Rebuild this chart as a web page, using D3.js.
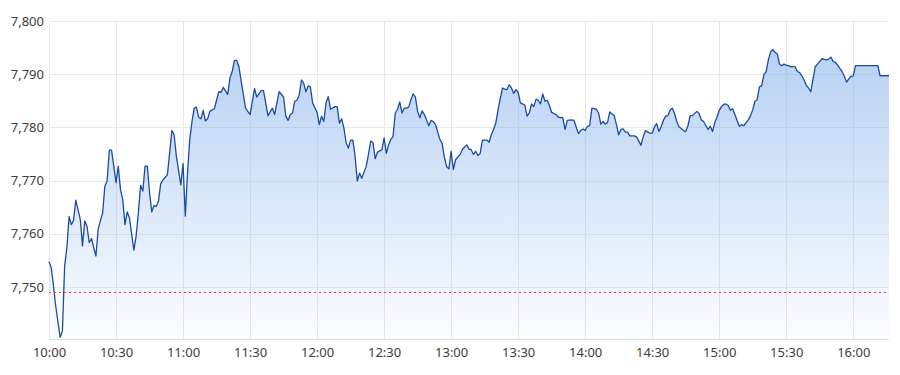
<!DOCTYPE html>
<html>
<head>
<meta charset="utf-8">
<script src="https://cdn.jsdelivr.net/npm/d3@7"></script>
<style>
  body { margin: 0; background: #fff; }
  text { font-family: "Noto Sans", "DejaVu Sans", sans-serif; }
</style>
</head>
<body>
<div id="chart"></div>
<script>
// intraday quotes, [time, price]
var quotes = [
  ["10:00",7754.7],["10:01",7753.6],["10:02",7750.2],["10:03",7746.4],["10:05",7740.5],["10:06",7741.7],
  ["10:07",7753.9],["10:08",7757.4],["10:09",7763.2],["10:10",7761.7],["10:11",7762.5],["10:12",7766.3],
  ["10:14",7762.7],["10:15",7757.7],["10:16",7762.4],["10:17",7761.4],["10:18",7758.3],["10:19",7759.1],
  ["10:20",7757.4],["10:21",7755.8],["10:22",7760.8],["10:23",7762.4],["10:24",7763.9],["10:25",7768.9],
  ["10:26",7769.9],["10:27",7775.7],["10:28",7775.7],["10:30",7769.6],["10:31",7772.7],["10:32",7768.3],
  ["10:33",7766.4],["10:34",7761.7],["10:35",7764.1],["10:36",7763.0],["10:38",7756.9],["10:39",7759.6],
  ["10:40",7763.9],["10:41",7769.1],["10:42",7768.0],["10:43",7772.7],["10:44",7772.7],["10:45",7767.7],
  ["10:46",7764.1],["10:47",7765.3],["10:48",7765.1],["10:49",7766.1],["10:50",7769.4],["10:51",7770.1],
  ["10:53",7771.1],["10:54",7775.2],["10:55",7779.4],["10:56",7778.6],["10:57",7774.6],["10:59",7769.2],
  ["11:00",7773.2],["11:01",7763.3],["11:02",7771.4],["11:03",7777.7],["11:04",7781.1],["11:05",7783.6],
  ["11:06",7783.8],["11:07",7781.9],["11:08",7781.6],["11:09",7783.2],["11:10",7781.2],["11:11",7781.6],
  ["11:12",7783.0],["11:14",7783.5],["11:16",7786.7],["11:17",7786.6],["11:18",7787.5],["11:20",7786.2],
  ["11:21",7789.3],["11:22",7790.5],["11:23",7792.6],["11:24",7792.6],["11:25",7791.4],["11:27",7786.1],
  ["11:28",7783.6],["11:30",7782.4],["11:32",7787.3],["11:33",7785.7],["11:35",7786.9],["11:36",7786.9],
  ["11:37",7784.6],["11:38",7782.2],["11:40",7783.6],["11:41",7782.4],["11:43",7786.7],["11:45",7785.7],
  ["11:46",7782.1],["11:47",7781.3],["11:48",7782.4],["11:49",7782.7],["11:50",7784.9],["11:51",7785.1],
  ["11:52",7786.1],["11:53",7788.9],["11:54",7788.3],["11:55",7786.7],["11:56",7787.8],["11:57",7787.6],
  ["11:58",7784.6],["12:00",7782.8],["12:01",7780.5],["12:02",7782.1],["12:03",7781.1],["12:04",7784.6],
  ["12:05",7785.8],["12:06",7783.4],["12:08",7783.9],["12:09",7783.9],["12:10",7780.8],["12:11",7781.6],
  ["12:12",7779.9],["12:13",7777.1],["12:14",7776.1],["12:15",7777.6],["12:16",7777.6],["12:17",7774.6],
  ["12:18",7769.9],["12:19",7771.4],["12:20",7770.4],["12:22",7772.7],["12:23",7774.9],["12:24",7777.4],
  ["12:25",7777.2],["12:26",7774.1],["12:27",7775.3],["12:29",7775.8],["12:30",7778.0],["12:31",7775.1],
  ["12:32",7776.7],["12:33",7777.7],["12:34",7778.3],["12:35",7782.7],["12:36",7783.4],["12:37",7784.8],
  ["12:38",7782.7],["12:39",7783.6],["12:40",7783.6],["12:41",7783.8],["12:42",7785.2],["12:43",7786.3],
  ["12:44",7785.7],["12:45",7783.0],["12:46",7781.8],["12:47",7783.1],["12:48",7782.4],["12:49",7781.4],
  ["12:50",7780.3],["12:51",7781.3],["12:52",7781.1],["12:53",7780.5],["12:55",7777.7],["12:56",7776.9],
  ["12:57",7774.3],["12:58",7772.6],["12:59",7772.2],["13:00",7775.5],["13:01",7772.1],["13:02",7773.9],
  ["13:04",7774.9],["13:05",7775.8],["13:06",7776.3],["13:07",7776.7],["13:08",7775.9],["13:09",7775.8],
  ["13:10",7774.9],["13:11",7775.5],["13:12",7774.7],["13:13",7775.1],["13:14",7777.6],["13:16",7777.6],
  ["13:17",7777.2],["13:18",7778.6],["13:19",7779.6],["13:20",7780.8],["13:21",7783.3],["13:22",7785.5],
  ["13:23",7787.4],["13:24",7787.2],["13:25",7787.1],["13:26",7788.0],["13:27",7787.4],["13:28",7786.4],
  ["13:29",7787.1],["13:30",7786.6],["13:31",7784.6],["13:33",7784.2],["13:34",7782.1],["13:35",7782.7],
  ["13:36",7784.4],["13:37",7783.9],["13:38",7785.3],["13:39",7785.1],["13:40",7784.4],["13:41",7786.3],
  ["13:42",7784.9],["13:43",7785.1],["13:44",7784.1],["13:45",7782.8],["13:47",7782.4],["13:48",7781.9],
  ["13:50",7781.8],["13:51",7779.6],["13:52",7781.3],["13:54",7781.4],["13:55",7781.3],["13:57",7778.8],
  ["13:58",7779.4],["13:59",7779.7],["14:00",7779.4],["14:01",7780.2],["14:02",7780.3],["14:03",7783.6],
  ["14:04",7783.5],["14:05",7783.4],["14:06",7782.7],["14:07",7780.6],["14:08",7781.1],["14:09",7780.6],
  ["14:10",7780.9],["14:11",7782.9],["14:13",7782.2],["14:14",7780.5],["14:15",7778.6],["14:16",7779.6],
  ["14:17",7779.7],["14:18",7779.1],["14:19",7779.1],["14:20",7778.4],["14:22",7778.4],["14:23",7778.2],
  ["14:24",7777.4],["14:25",7776.6],["14:26",7778.3],["14:27",7779.4],["14:28",7779.1],["14:29",7778.9],
  ["14:30",7778.9],["14:31",7780.1],["14:32",7780.7],["14:33",7779.2],["14:34",7780.1],["14:35",7781.3],
  ["14:36",7782.1],["14:37",7782.2],["14:38",7783.2],["14:39",7783.6],["14:40",7782.6],["14:41",7781.1],
  ["14:42",7780.1],["14:44",7779.4],["14:45",7779.2],["14:46",7780.3],["14:47",7782.2],["14:48",7782.2],
  ["14:50",7783.0],["14:51",7782.6],["14:52",7781.4],["14:53",7781.1],["14:55",7779.6],["14:56",7780.2],
  ["14:57",7779.2],["14:58",7780.9],["14:59",7781.9],["15:00",7783.2],["15:01",7783.9],["15:02",7784.3],
  ["15:03",7784.4],["15:04",7784.1],["15:05",7783.2],["15:06",7783.5],["15:07",7782.4],["15:08",7781.3],
  ["15:09",7780.2],["15:10",7780.5],["15:11",7780.3],["15:13",7781.4],["15:14",7782.2],["15:15",7783.3],
  ["15:16",7784.9],["15:17",7785.2],["15:18",7787.6],["15:19",7787.8],["15:20",7789.9],["15:21",7790.5],
  ["15:22",7792.7],["15:23",7794.2],["15:24",7794.6],["15:25",7794.1],["15:26",7793.8],["15:27",7791.9],
  ["15:28",7791.6],["15:29",7791.9],["15:30",7791.7],["15:31",7791.6],["15:32",7791.4],["15:34",7791.4],
  ["15:35",7790.5],["15:36",7790.3],["15:37",7789.7],["15:38",7788.9],["15:39",7787.9],["15:40",7787.4],
  ["15:41",7786.7],["15:42",7789.1],["15:43",7791.4],["15:44",7791.9],["15:46",7792.9],["15:47",7792.8],
  ["15:48",7792.7],["15:49",7792.8],["15:50",7793.2],["15:51",7792.4],["15:52",7792.2],["15:53",7791.7],
  ["15:54",7791.1],["15:55",7790.5],["15:56",7789.6],["15:57",7788.5],["15:58",7789.1],["15:59",7789.6],
  ["16:00",7789.7],["16:01",7791.6],["16:11",7791.6],["16:12",7789.7],["16:16",7789.7]
];

var prevClose = 7749.1;   // dotted red reference line
var yTicks = [7750, 7760, 7770, 7780, 7790, 7800];
var xTicks = ["10:00","10:30","11:00","11:30","12:00","12:30","13:00","13:30","14:00","14:30","15:00","15:30","16:00"];

// sizes
var totalWidth = 900;
var totalHeight = 375;
var margin = {left: 49, top: 21, right: 11, bottom: 35};
var width = totalWidth - margin.left - margin.right;
var height = totalHeight - margin.top - margin.bottom;

var parseTime = d3.timeParse("%H:%M");
var data = quotes.map(function(d){ return {t: parseTime(d[0]), v: d[1]}; });

var x = d3.scaleTime()
    .domain(d3.extent(data, function(d){ return d.t; }))
    .range([0, width]);
var y = d3.scaleLinear().domain([7740, 7800]).range([height, 0]);

var svg = d3.select("#chart")
  .append("svg")
    .attr("width", totalWidth)
    .attr("height", totalHeight)
  .append("g")
    .attr("transform", "translate(" + margin.left + "," + margin.top + ")");

// fill gradient
var grad = svg.append("defs").append("linearGradient")
    .attr("id", "fillGrad")
    .attr("gradientUnits", "userSpaceOnUse")
    .attr("x1", 0).attr("x2", 0)
    .attr("y1", y(7795)).attr("y2", height);
grad.append("stop").attr("offset", "0%").attr("stop-color", "#8ab4ec").attr("stop-opacity", 0.62);
grad.append("stop").attr("offset", "100%").attr("stop-color", "#8ab4ec").attr("stop-opacity", 0.03);

// grid lines
svg.append("g").selectAll("line.h").data(yTicks).enter().append("line")
    .attr("x1", 0).attr("x2", width)
    .attr("y1", function(d){ return Math.round(y(d)) + 0.5; })
    .attr("y2", function(d){ return Math.round(y(d)) + 0.5; })
    .attr("stroke", "#e8e8e8");

svg.append("g").selectAll("line.v").data(xTicks).enter().append("line")
    .attr("x1", function(d){ return Math.round(x(parseTime(d))) + 0.5; })
    .attr("x2", function(d){ return Math.round(x(parseTime(d))) + 0.5; })
    .attr("y1", 0).attr("y2", height)
    .attr("stroke", "#e8e8e8");

// area + line
var area = d3.area()
    .x(function(d){ return x(d.t); })
    .y0(height)
    .y1(function(d){ return y(d.v); });
var line = d3.line()
    .x(function(d){ return x(d.t); })
    .y(function(d){ return y(d.v); });

svg.append("path").datum(data)
    .attr("d", area)
    .attr("fill", "url(#fillGrad)");

svg.append("path").datum(data)
    .attr("d", line)
    .attr("fill", "none")
    .attr("stroke", "#1c4c9e")
    .attr("stroke-width", 1.3)
    .attr("stroke-linejoin", "round");

// previous close (snapped to the pixel grid so the dots stay red)
var yClose = Math.round(y(prevClose)) + 0.5;
svg.append("line")
    .attr("x1", 0).attr("x2", width)
    .attr("y1", yClose).attr("y2", yClose)
    .attr("stroke", "#ff3b2f")
    .attr("stroke-width", 1)
    .attr("stroke-dasharray", "2,3")
    .attr("shape-rendering", "crispEdges");

// bottom axis line
svg.append("line")
    .attr("x1", 0).attr("x2", width)
    .attr("y1", height - 0.5).attr("y2", height - 0.5)
    .attr("stroke", "#dcdcdc");

// axes (labels only)
var xAxis = d3.axisBottom(x)
    .tickValues(xTicks.map(parseTime))
    .tickFormat(d3.timeFormat("%H:%M"))
    .tickSize(0).tickPadding(8);
var yAxis = d3.axisLeft(y)
    .tickValues(yTicks)
    .tickFormat(d3.format(","))
    .tickSize(0).tickPadding(5);

var gx = svg.append("g")
    .attr("transform", "translate(0," + height + ")")
    .call(xAxis);
var gy = svg.append("g").call(yAxis);

[gx, gy].forEach(function(g){
    g.select(".domain").remove();
    g.selectAll("text")
        .attr("fill", "#3c3c3c")
        .style("font-size", "13px");
});
</script>
</body>
</html>
